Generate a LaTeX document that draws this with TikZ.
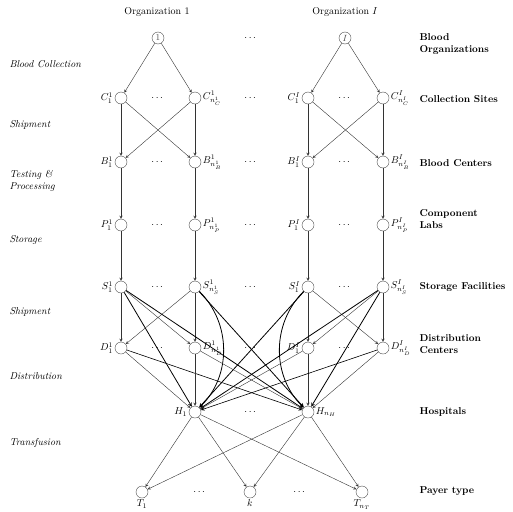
\documentclass[tikz,border=0pt]{standalone}
\usepackage{amsmath}
\usepackage{amssymb}
\usetikzlibrary{arrows}

\begin{document}
\begin{tikzpicture}[x=1pt,y=-1pt,>=stealth,
    site/.style={draw,circle,minimum size=12pt,inner sep=0pt,gray!60!black},
    every label/.style={inner sep=0.5pt,black},
    label distance=1pt,
    link/.style={->,black!80},
    ship/.style={->,thick},
    stage/.style={anchor=west,align=left,font=\itshape},
    tier/.style={anchor=west,align=left,font=\bfseries}]
    \useasboundingbox (0,0) rectangle (513,511);

    % organizations
    \node at (157,12) {Organization 1};
    \node at (345,12) {Organization $I$};
    \node[site] (o1) at (158,38) {\small 1};
    \node[site] (oI) at (345,38) {\small $I$};
    \node at (251,38) {$\cdots$};

    % organization 1
    \node[site,label=left:$C^1_1$] (c11) at (121,98) {};
    \node[site,label=right:$C^1_{n^1_C}$] (c1n) at (195,98) {};
    \node[site,label=left:$B^1_1$] (b11) at (121,162) {};
    \node[site,label=right:$B^1_{n^1_B}$] (b1n) at (195,162) {};
    \node[site,label=left:$P^1_1$] (p11) at (121,225) {};
    \node[site,label=right:$P^1_{n^1_P}$] (p1n) at (195,225) {};
    \node[site,label=left:$S^1_1$] (s11) at (121,287) {};
    \node[site,label=right:$S^1_{n^1_S}$] (s1n) at (195,287) {};
    \node[site,label=left:$D^1_1$] (d11) at (121,348) {};
    \node[site,label=right:$D^1_{n^1_D}$] (d1n) at (195,348) {};

    % organization I
    \node[site,label=left:$C^I_1$] (cI1) at (308,98) {};
    \node[site,label=right:$C^I_{n^I_C}$] (cIn) at (383,98) {};
    \node[site,label=left:$B^I_1$] (bI1) at (308,162) {};
    \node[site,label=right:$B^I_{n^I_B}$] (bIn) at (383,162) {};
    \node[site,label=left:$P^I_1$] (pI1) at (308,225) {};
    \node[site,label=right:$P^I_{n^I_P}$] (pIn) at (383,225) {};
    \node[site,label=left:$S^I_1$] (sI1) at (308,287) {};
    \node[site,label=right:$S^I_{n^I_S}$] (sIn) at (383,287) {};
    \node[site,label=left:$D^I_1$] (dI1) at (308,348) {};
    \node[site,label=right:$D^I_{n^I_D}$] (dIn) at (383,348) {};

    \foreach \y in {98,162,225,287,348} {
        \node at (158,\y) {$\cdots$};
        \node at (251,\y) {$\cdots$};
        \node at (345,\y) {$\cdots$};
    }

    % hospitals and payers
    \node[site,label=left:$H_1$] (h1) at (195,412) {};
    \node[site,label=right:$H_{n_H}$] (hn) at (308,412) {};
    \node at (251,412) {$\cdots$};
    \node[site,label=below:$T_1$] (t1) at (142,492) {};
    \node[site,label=below:$k$] (tk) at (250,492) {};
    \node[site,label=below:$T_{n_T}$] (tn) at (362,492) {};
    \node at (200,492) {$\cdots$};
    \node at (300,492) {$\cdots$};

    % stages
    \node[stage] (l1) at (6,64) {Blood Collection};
    \node[stage] (l2) at (6,125) {Shipment};
    \node[stage] (l3) at (6,181) {Testing \&\\Processing};
    \node[stage] (l4) at (6,240) {Storage};
    \node[stage] (l5) at (6,312) {Shipment};
    \node[stage] (l6) at (6,376) {Distribution};
    \node[stage] (l7) at (6,443) {Transfusion};

    % tiers
    \node[tier] (r1) at (416,44) {Blood\\Organizations};
    \node[tier] (r2) at (416,99) {Collection Sites};
    \node[tier] (r3) at (416,163) {Blood Centers};
    \node[tier] (r4) at (416,219) {Component\\Labs};
    \node[tier] (r5) at (416,287) {Storage Facilities};
    \node[tier] (r6) at (416,344) {Distribution\\Centers};
    \node[tier] (r7) at (416,412) {Hospitals};
    \node[tier] (r8) at (416,491) {Payer type};

    % collection
    \draw[link] (o1) -- (c11);
    \draw[link] (o1) -- (c1n);
    \draw[link] (oI) -- (cI1);
    \draw[link] (oI) -- (cIn);

    % shipment to blood centers
    \draw[link] (c11) -- (b11);
    \draw[link] (c11) -- (b1n);
    \draw[link] (c1n) -- (b11);
    \draw[link] (c1n) -- (b1n);
    \draw[link] (cI1) -- (bI1);
    \draw[link] (cI1) -- (bIn);
    \draw[link] (cIn) -- (bI1);
    \draw[link] (cIn) -- (bIn);

    % testing, processing, storage
    \draw[link] (b11) -- (p11);
    \draw[link] (b1n) -- (p1n);
    \draw[link] (bI1) -- (pI1);
    \draw[link] (bIn) -- (pIn);
    \draw[link] (p11) -- (s11);
    \draw[link] (p1n) -- (s1n);
    \draw[link] (pI1) -- (sI1);
    \draw[link] (pIn) -- (sIn);

    % shipment to distribution centers
    \draw[link] (s11) -- (d11);
    \draw[link] (s11) -- (d1n);
    \draw[link] (s1n) -- (d11);
    \draw[link] (s1n) -- (d1n);
    \draw[link] (sI1) -- (dI1);
    \draw[link] (sI1) -- (dIn);
    \draw[link] (sIn) -- (dI1);
    \draw[link] (sIn) -- (dIn);

    % direct shipment to hospitals
    \draw[ship] (s11) -- (h1);
    \draw[ship] (s11) -- (hn);
    \draw[ship] (s1n) to[bend left=45] (h1);
    \draw[ship] (s1n) -- (hn);
    \draw[ship] (sI1) -- (h1);
    \draw[ship] (sI1) to[bend right=45] (hn);
    \draw[ship] (sIn) -- (h1);
    \draw[ship] (sIn) -- (hn);

    % distribution
    \draw[link] (d11) -- (h1);
    \draw[ship,semithick] (d11) -- (hn);
    \draw[link] (d1n) -- (h1);
    \draw[link] (d1n) -- (hn);
    \draw[link] (dI1) -- (h1);
    \draw[link] (dI1) -- (hn);
    \draw[ship,semithick] (dIn) -- (h1);
    \draw[link] (dIn) -- (hn);

    % transfusion
    \draw[link] (h1) -- (t1);
    \draw[link] (h1) -- (tk);
    \draw[link] (h1) -- (tn);
    \draw[link] (hn) -- (t1);
    \draw[link] (hn) -- (tk);
    \draw[link] (hn) -- (tn);
\end{tikzpicture}
\end{document}
